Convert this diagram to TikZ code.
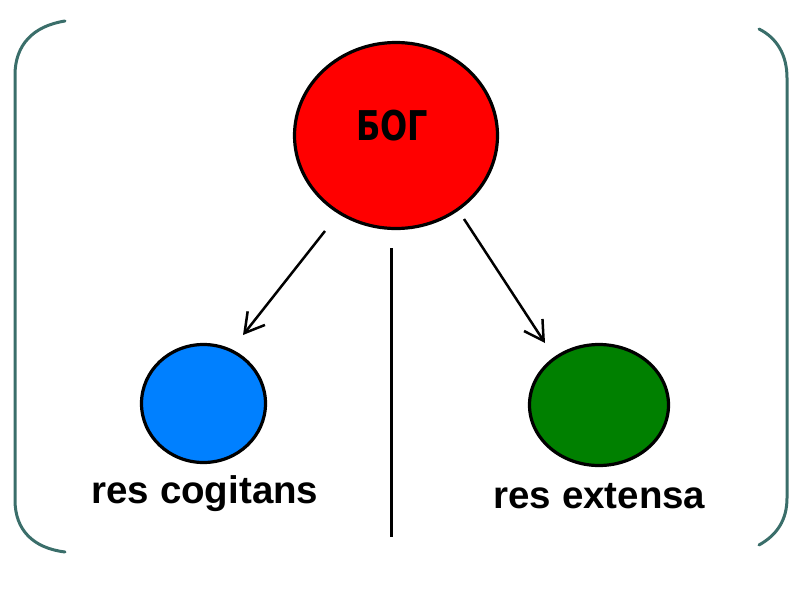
\documentclass[tikz,border=0pt]{standalone}
\usepackage{fontspec}
\setmainfont{Liberation Sans}
\newfontfamily\godfont{DejaVu Sans}
\usetikzlibrary{shapes.geometric,arrows.meta}
\definecolor{bracketteal}{RGB}{58,110,106}
\definecolor{godred}{RGB}{255,0,0}
\definecolor{cogblue}{RGB}{0,128,255}
\definecolor{extgreen}{RGB}{0,128,0}
\tikzset{
  orb/.style={ellipse, draw=black, line width=3.2pt, inner sep=0pt},
  bigtext/.style={font=\bfseries\fontsize{38.5}{40}\selectfont, anchor=base, inner sep=0pt},
  bracket/.style={draw=bracketteal, line width=3pt, line cap=round},
  arrowline/.style={line width=2.5pt, -{Straight Barb[length=19pt,width=22pt,line width=2.5pt]}},
  divider/.style={line width=3pt}
}
\begin{document}
\begin{tikzpicture}[x=1pt,y=-1pt]
\useasboundingbox (0,0) rectangle (800,600);
% side brackets
\draw[bracket] (65,21) .. controls (33,26) and (15,45) .. (15,75) -- (15,500) .. controls (15,530) and (33,548) .. (65,552);
\draw[bracket] (759,29) .. controls (777,38) and (787,55) .. (787,78) -- (787,498) .. controls (787,520) and (777,535) .. (759,545);
% circles
\node[orb, fill=godred, minimum width=203pt, minimum height=186pt] (god) at (396,135.5) {};
\node[orb, fill=cogblue, minimum width=124pt, minimum height=118pt] (cog) at (203.5,403.5) {};
\node[orb, fill=extgreen, minimum width=139pt, minimum height=121pt] (ext) at (599,405) {};
% labels
\node[font=\godfont\bfseries\fontsize{41}{44}\selectfont, anchor=base, inner sep=0pt, xscale=0.78] (godlabel) at (392,140) {БОГ};
\node[bigtext] (coglabel) at (205,503) {res cogitans};
\node[bigtext] (extlabel) at (599.5,508) {res extensa};
% arrows
\coordinate (a1s) at (325,231);
\coordinate (a1e) at (243,335);
\coordinate (a2s) at (464,219);
\coordinate (a2e) at (545,343);
\draw[arrowline] (a1s) -- (a1e);
\draw[arrowline] (a2s) -- (a2e);
% divider
\coordinate (dtop) at (391,248);
\coordinate (dbot) at (391,537);
\draw[divider] (dtop) -- (dbot);
\end{tikzpicture}
\end{document}
